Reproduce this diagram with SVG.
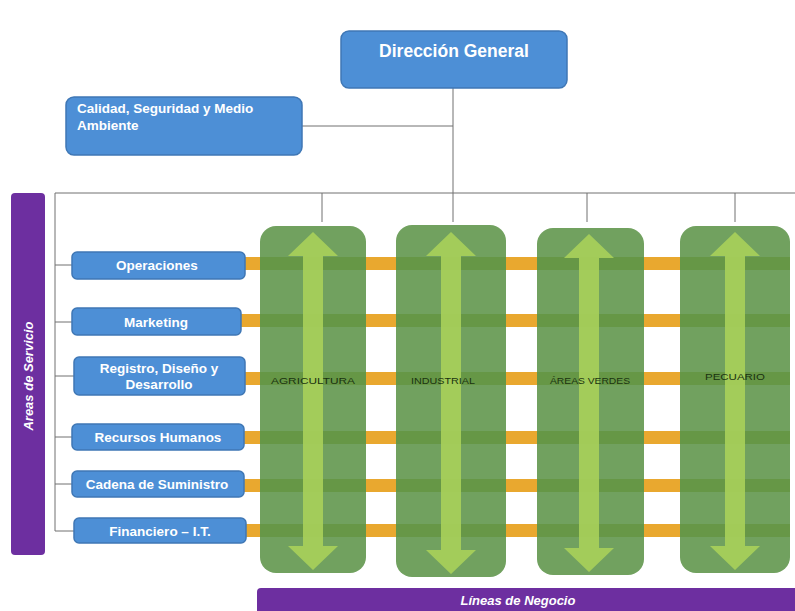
<svg xmlns="http://www.w3.org/2000/svg" width="795" height="611" viewBox="0 0 795 611">
<style>
.box{fill:#4d8fd6;stroke:#3f77b5;stroke-width:1.5}
.bt{font-family:"Liberation Sans",Arial,sans-serif;font-weight:bold;fill:#ffffff;font-size:13.5px;text-anchor:middle}
.ln{stroke:#707070;stroke-width:1;fill:none}
.col{fill:#71a15f}
.bar{fill:#e9a82f}
.band{fill:#5e8f33;opacity:0.55}
.arr{fill:#a9d05a;opacity:0.9}
.ct{font-family:"Liberation Sans",Arial,sans-serif;font-size:9px;fill:#1a3310;text-anchor:middle}
.pur{fill:#6d2fa0}
.pt{font-family:"Liberation Sans",Arial,sans-serif;font-weight:bold;font-style:italic;fill:#ffffff;font-size:13px;text-anchor:middle}
</style>
<rect width="795" height="611" fill="#ffffff"/>
<g id="connectors">
<line class="ln" x1="453" y1="88" x2="453" y2="222"/>
<line class="ln" x1="302" y1="126" x2="453" y2="126"/>
<line class="ln" x1="55" y1="193" x2="795" y2="193"/>
<line class="ln" x1="55" y1="193" x2="55" y2="531"/>
<line class="ln" x1="322" y1="193" x2="322" y2="222"/>
<line class="ln" x1="587" y1="193" x2="587" y2="222"/>
<line class="ln" x1="735" y1="193" x2="735" y2="222"/>
<line class="ln" x1="55" y1="265" x2="72" y2="265"/>
<line class="ln" x1="55" y1="322" x2="72" y2="322"/>
<line class="ln" x1="55" y1="376" x2="74" y2="376"/>
<line class="ln" x1="55" y1="437" x2="72" y2="437"/>
<line class="ln" x1="55" y1="484" x2="72" y2="484"/>
<line class="ln" x1="55" y1="531" x2="74" y2="531"/>
</g>
<g id="bars">
<rect class="bar" x="244" y="257" width="530" height="13"/>
<rect class="bar" x="240" y="314" width="534" height="13"/>
<rect class="bar" x="244" y="372" width="530" height="13"/>
<rect class="bar" x="243" y="431" width="531" height="13"/>
<rect class="bar" x="243" y="479" width="531" height="13"/>
<rect class="bar" x="245" y="524" width="529" height="13"/>
</g>
<g id="col-1">
<rect class="col" x="260" y="226" width="106" height="347" rx="16"/>
<g class="band"><rect x="260" y="257" width="106" height="13"/><rect x="260" y="314" width="106" height="13"/><rect x="260" y="372" width="106" height="13"/><rect x="260" y="431" width="106" height="13"/><rect x="260" y="479" width="106" height="13"/><rect x="260" y="524" width="106" height="13"/></g>
<polygon class="arr" points="313,232 338,256 323,256 323,546 338,546 313,570 288,546 303,546 303,256 288,256"/>
<text class="ct" x="313" y="384" textLength="84" lengthAdjust="spacingAndGlyphs">AGRICULTURA</text>
</g>
<g id="col-2">
<rect class="col" x="396" y="225" width="110" height="352" rx="16"/>
<g class="band"><rect x="396" y="257" width="110" height="13"/><rect x="396" y="314" width="110" height="13"/><rect x="396" y="372" width="110" height="13"/><rect x="396" y="431" width="110" height="13"/><rect x="396" y="479" width="110" height="13"/><rect x="396" y="524" width="110" height="13"/></g>
<polygon class="arr" points="451,232 476,256 461,256 461,550 476,550 451,574 426,550 441,550 441,256 426,256"/>
<text class="ct" x="443" y="384" textLength="64" lengthAdjust="spacingAndGlyphs">INDUSTRIAL</text>
</g>
<g id="col-3">
<rect class="col" x="537" y="228" width="107" height="347" rx="16"/>
<g class="band"><rect x="537" y="257" width="107" height="13"/><rect x="537" y="314" width="107" height="13"/><rect x="537" y="372" width="107" height="13"/><rect x="537" y="431" width="107" height="13"/><rect x="537" y="479" width="107" height="13"/><rect x="537" y="524" width="107" height="13"/></g>
<polygon class="arr" points="589,234 614,258 599,258 599,548 614,548 589,572 564,548 579,548 579,258 564,258"/>
<text class="ct" x="590" y="384" textLength="80" lengthAdjust="spacingAndGlyphs">ÁREAS VERDES</text>
</g>
<g id="col-4">
<rect class="col" x="680" y="226" width="110" height="347" rx="16"/>
<g class="band"><rect x="680" y="257" width="110" height="13"/><rect x="680" y="314" width="110" height="13"/><rect x="680" y="372" width="110" height="13"/><rect x="680" y="431" width="110" height="13"/><rect x="680" y="479" width="110" height="13"/><rect x="680" y="524" width="110" height="13"/></g>
<polygon class="arr" points="735,232 760,256 745,256 745,546 760,546 735,570 710,546 725,546 725,256 710,256"/>
<text class="ct" x="735" y="380" textLength="60" lengthAdjust="spacingAndGlyphs">PECUARIO</text>
</g>
<g id="direccion-general">
<rect class="box" x="341" y="31" width="226" height="57" rx="8"/>
<text class="bt" x="454" y="57" style="font-size:17.5px">Dirección General</text>
</g>
<g id="calidad">
<rect class="box" x="66" y="97" width="236" height="58" rx="8"/>
<text class="bt" x="77" y="113" style="text-anchor:start">Calidad, Seguridad y Medio</text>
<text class="bt" x="77" y="130" style="text-anchor:start">Ambiente</text>
</g>
<g id="areas-servicio">
<rect class="pur" x="11" y="193" width="34" height="362" rx="4"/>
<text class="pt" transform="translate(33,376) rotate(-90)">Areas de Servicio</text>
</g>
<g id="operaciones">
<rect class="box" x="72" y="252" width="173" height="27" rx="5"/>
<text class="bt" x="157" y="270">Operaciones</text>
</g>
<g id="marketing">
<rect class="box" x="72" y="308" width="169" height="27" rx="5"/>
<text class="bt" x="156" y="327">Marketing</text>
</g>
<g id="registro">
<rect class="box" x="74" y="357" width="171" height="38" rx="5"/>
<text class="bt" x="159" y="373">Registro, Diseño y</text>
<text class="bt" x="159" y="389">Desarrollo</text>
</g>
<g id="recursos-humanos">
<rect class="box" x="72" y="424" width="172" height="26" rx="5"/>
<text class="bt" x="158" y="442">Recursos Humanos</text>
</g>
<g id="cadena">
<rect class="box" x="72" y="471" width="172" height="26" rx="5"/>
<text class="bt" x="157" y="489">Cadena de Suministro</text>
</g>
<g id="financiero">
<rect class="box" x="74" y="518" width="172" height="25" rx="5"/>
<text class="bt" x="160" y="536">Financiero – I.T.</text>
</g>
<g id="lineas-negocio">
<rect class="pur" x="257" y="588" width="545" height="30" rx="4"/>
<text class="pt" x="518" y="605">Líneas de Negocio</text>
</g>
</svg>
